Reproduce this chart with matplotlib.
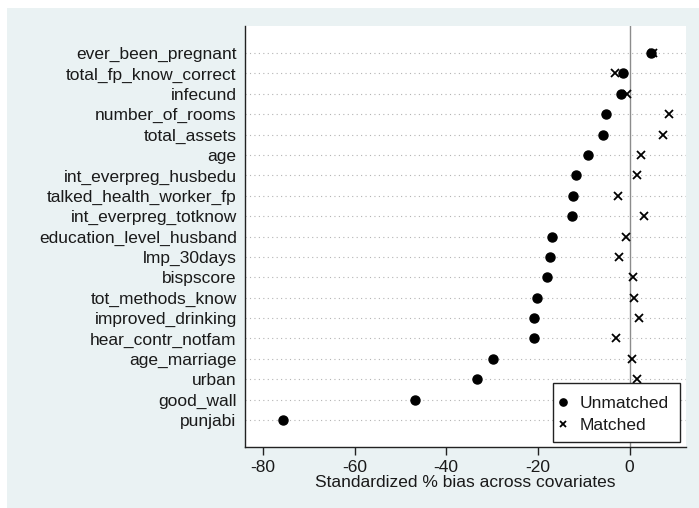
import matplotlib
matplotlib.use("Agg")
import matplotlib.pyplot as plt
from matplotlib.patches import Rectangle
import numpy as np

plt.rcParams['font.family'] = ['Liberation Sans', 'DejaVu Sans']

# covariates, top to bottom
covariates = ["ever_been_pregnant", "total_fp_know_correct", "infecund",
              "number_of_rooms", "total_assets", "age", "int_everpreg_husbedu",
              "talked_health_worker_fp", "int_everpreg_totknow",
              "education_level_husband", "lmp_30days", "bispscore",
              "tot_methods_know", "improved_drinking", "hear_contr_notfam",
              "age_marriage", "urban", "good_wall", "punjabi"]
unmatched = [4.6, -1.5, -1.8, -5.2, -5.8, -9.1, -11.6, -12.4, -12.5,
             -17.0, -17.4, -18.0, -20.1, -20.8, -20.9, -29.9, -33.2, -46.9, -75.6]
# last two are hidden behind the legend in the original
matched = [5.0, -3.2, -0.5, 8.6, 7.2, 2.5, 1.6, -2.6, 3.1,
           -0.7, -2.3, 0.8, 1.0, 2.0, -2.9, 0.5, 1.6, 1.0, -0.5]
xticks = [-80, -60, -40, -20, 0]

W, H = 699, 508
fig = plt.figure(figsize=(W / 100, H / 100), dpi=100)
fig.patch.set_facecolor("white")
fig.patches.append(Rectangle((7 / W, 0), 1 - 7 / W, 1 - 8 / H, transform=fig.transFigure,
                             facecolor="#eaf2f3", edgecolor="none", zorder=-10))

ax = fig.add_axes([245 / W, 1 - 446.5 / H, (686 - 245) / W, (446.5 - 26) / H])
ax.set_facecolor("white")

n = len(covariates)
ypos = np.arange(n)[::-1]

for y in ypos:
    ax.axhline(y, color="#b4b4b4", lw=0.8, ls=(0, (1, 3)), zorder=1)
ax.axvline(0, color="#8c8c8c", lw=1.0, zorder=1)

ax.plot(unmatched, ypos, "o", color="black", ms=6.5, ls="none", label="Unmatched", zorder=3)
ax.plot(matched, ypos, "x", color="black", ms=5.5, mew=1.3, ls="none", label="Matched", zorder=3)

ax.set_xlim(-83.9, 12.3)
ax.set_ylim(-1.3, n - 1 + 1.33)
ax.set_yticks(ypos)
ax.set_yticklabels(covariates, fontsize=12.5, color="#1a1a1a")
ax.set_xticks(xticks)
ax.set_xticklabels([str(t) for t in xticks], fontsize=12.5, color="#1a1a1a")
ax.tick_params(axis="y", length=0, pad=6)
ax.tick_params(axis="x", length=5.5, width=1.0, color="#222222", pad=4)
ax.set_xlabel("Standardized % bias across covariates", fontsize=12.5, color="#1a1a1a", labelpad=0)

for side in ["top", "right"]:
    ax.spines[side].set_visible(False)
for side in ["left", "bottom"]:
    ax.spines[side].set_color("#222222")
    ax.spines[side].set_linewidth(1.0)

# legend box drawn by hand (Stata-like padding)
box = Rectangle((553 / W, 1 - 442 / H), 127 / W, 59.5 / H, transform=fig.transFigure,
                facecolor="white", edgecolor="#222222", lw=1.0, zorder=4)
ax.add_patch(box)
box.set_clip_on(False)

leg = ax.legend(loc="upper left", bbox_to_anchor=(559.8 / W, 1 - 395.7 / H),
                bbox_transform=fig.transFigure, fontsize=12.5, frameon=False,
                handlelength=0.4, handletextpad=0.72, borderpad=0, borderaxespad=0,
                labelspacing=0.41, markerscale=0.8)
leg.set_zorder(5)
for t in leg.get_texts():
    t.set_color("#1a1a1a")

fig.savefig("out.png", dpi=100, facecolor=fig.get_facecolor())
